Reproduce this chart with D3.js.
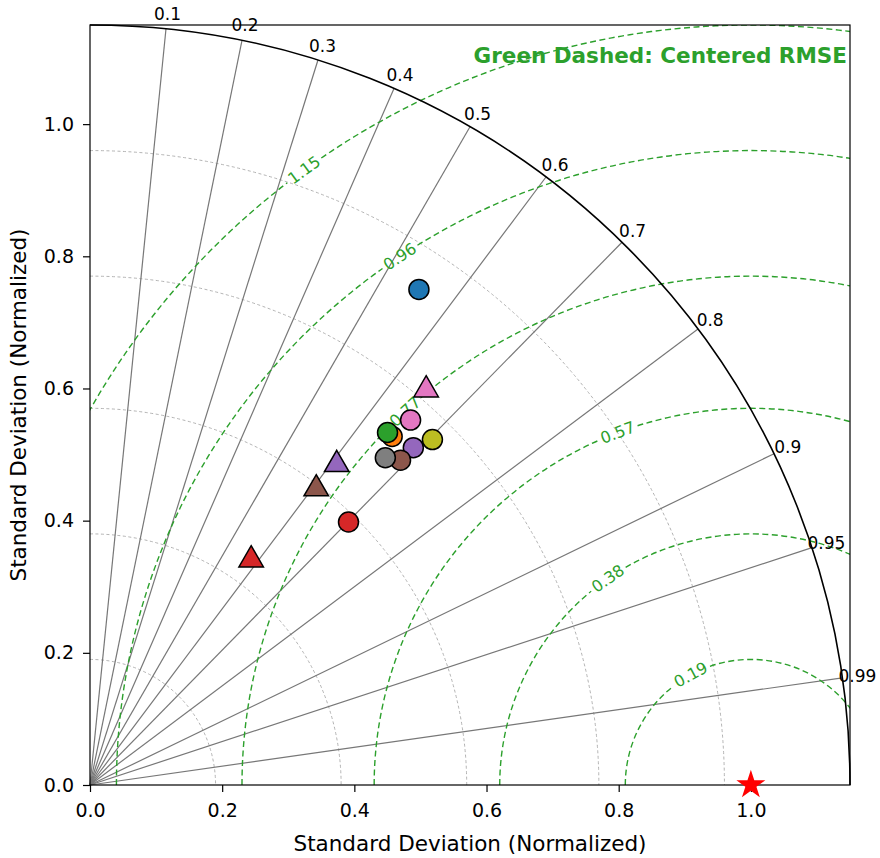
<!DOCTYPE html>
<html>
<head>
<meta charset="utf-8">
<script src="https://cdn.jsdelivr.net/npm/d3@7"></script>
<style>
  body { margin: 0; background: #fff; }
  svg { font-family: "DejaVu Sans", sans-serif; }
</style>
</head>
<body>
<svg width="880" height="858"></svg>
<script>
// normalized std dev + correlation
var circleStd  = [0.900, 0.698, 0.698, 0.558, 0.707, 0.680, 0.735, 0.667, 0.736];
var circleCorr = [0.553, 0.655, 0.645, 0.701, 0.692, 0.691, 0.660, 0.670, 0.704];
var triangleStd  = [0.419, 0.612, 0.564, 0.785];
var triangleCorr = [0.582, 0.610, 0.607, 0.648];
var refStd = 1.0;

var corrTicks = [0.1, 0.2, 0.3, 0.4, 0.5, 0.6, 0.7, 0.8, 0.9, 0.95, 0.99];
var stdLevels = [0.19, 0.38, 0.57, 0.77, 0.96];
var rmseLevels = [0.19, 0.38, 0.57, 0.77, 0.96, 1.15];
var stdTicks = [0, 0.2, 0.4, 0.6, 0.8, 1.0];
var stdMax = 1.15;

// styling
var circleColors = ["#1f77b4", "#ff7f0e", "#2ca02c", "#d62728", "#9467bd", "#8c564b", "#e377c2", "#7f7f7f", "#bcbd22"];
var triangleColors = ["#d62728", "#9467bd", "#8c564b", "#e377c2"];
var rmseLabelAngle = [118.6, 124.7, 110.7, 132.8, 123.6, 126.0]; // degrees around the reference point
var green = "#2ca02c";

var svg = d3.select("svg");
var margin = {top: 25, right: 30, bottom: 73, left: 90};
var width = +svg.attr("width") - margin.left - margin.right;
var height = +svg.attr("height") - margin.top - margin.bottom;
var g = svg.append("g").attr("transform", "translate(" + margin.left + "," + margin.top + ")");

var x = d3.scaleLinear().domain([0, stdMax]).range([0, width]);
var y = d3.scaleLinear().domain([0, stdMax]).range([height, 0]);
var unit = x(1) - x(0);

function polar(r, a) { return [x(r * Math.cos(a)), y(r * Math.sin(a))]; }

g.append("clipPath").attr("id", "plotClip")
  .append("rect").attr("width", width).attr("height", height);

// std dev arcs about the origin
g.selectAll(".stdArc")
  .data(stdLevels)
  .enter().append("path")
    .attr("class", "stdArc")
    .attr("d", function(r) {
      var p = d3.path();
      p.arc(x(0), y(0), r * unit, -Math.PI / 2, 0);
      return p.toString();
    })
    .attr("fill", "none")
    .attr("stroke", "#aaa")
    .attr("stroke-width", 0.9)
    .attr("stroke-dasharray", "3,2.5");

// correlation rays
var line = d3.line();
g.selectAll(".corrLine")
  .data(corrTicks)
  .enter().append("path")
    .attr("class", "corrLine")
    .attr("d", function(c) { return line([polar(0, 0), polar(stdMax, Math.acos(c))]); })
    .attr("stroke", "#777")
    .attr("stroke-width", 1.2);

// centered RMSE circles around the reference, with a gap for the label
var rmse = g.append("g").attr("clip-path", "url(#plotClip)");
rmse.selectAll(".rmseArc")
  .data(rmseLevels)
  .enter().append("path")
    .attr("class", "rmseArc")
    .attr("d", function(r, i) {
      var R = r * unit;
      var phi = rmseLabelAngle[i] * Math.PI / 180;
      var gap = 21 / R;
      var p = d3.path();
      p.arc(x(refStd), y(0), R, -Math.PI, -(phi + gap));
      p.moveTo(x(refStd) + R * Math.cos(phi - gap), y(0) - R * Math.sin(phi - gap));
      p.arc(x(refStd), y(0), R, -(phi - gap), 0);
      return p.toString();
    })
    .attr("fill", "none")
    .attr("stroke", green)
    .attr("stroke-width", 1.4)
    .attr("stroke-dasharray", "6,3.5");

g.selectAll(".rmseLabel")
  .data(rmseLevels)
  .enter().append("text")
    .attr("class", "rmseLabel")
    .attr("transform", function(r, i) {
      var phi = rmseLabelAngle[i] * Math.PI / 180;
      var px = x(refStd + r * Math.cos(phi)), py = y(r * Math.sin(phi));
      return "translate(" + px + "," + py + ") rotate(" + (-(rmseLabelAngle[i] - 90)) + ")";
    })
    .attr("text-anchor", "middle")
    .attr("dominant-baseline", "central")
    .attr("fill", green)
    .style("font-size", "16px")
    .text(function(r) { return d3.format(".2f")(r); });

// outer arc
g.append("path")
  .attr("d", function() {
    var p = d3.path();
    p.arc(x(0), y(0), stdMax * unit, -Math.PI / 2, 0);
    return p.toString();
  })
  .attr("fill", "none")
  .attr("stroke", "#000")
  .attr("stroke-width", 1.6);

g.selectAll(".corrLabel")
  .data(corrTicks)
  .enter().append("text")
    .attr("class", "corrLabel")
    .attr("x", function(c) { return polar(stdMax * 1.02, Math.acos(c))[0]; })
    .attr("y", function(c) { return polar(stdMax * 1.02, Math.acos(c))[1]; })
    .attr("text-anchor", "middle")
    .attr("dominant-baseline", "central")
    .style("font-size", "17px")
    .text(function(c) { return c; });

// axes
var xAxis = g.append("g")
  .attr("transform", "translate(0," + height + ")")
  .call(d3.axisBottom(x).tickValues(stdTicks).tickFormat(d3.format(".1f")).tickSize(7).tickPadding(12));
var yAxis = g.append("g")
  .call(d3.axisLeft(y).tickValues(stdTicks).tickFormat(d3.format(".1f")).tickSize(7).tickPadding(9));
[xAxis, yAxis].forEach(function(a) {
  a.select(".domain").remove();
  a.selectAll("text").style("font-size", "19px").attr("fill", "#000").style("font-family", "DejaVu Sans");
  a.selectAll("line").attr("stroke", "#000").attr("stroke-width", 1.2);
});

g.append("rect")
  .attr("width", width).attr("height", height)
  .attr("fill", "none").attr("stroke", "#000").attr("stroke-width", 1.2);

// models
g.selectAll(".model")
  .data(circleStd)
  .enter().append("circle")
    .attr("class", "model")
    .attr("cx", function(s, i) { return polar(s, Math.acos(circleCorr[i]))[0]; })
    .attr("cy", function(s, i) { return polar(s, Math.acos(circleCorr[i]))[1]; })
    .attr("r", 10)
    .attr("fill", function(s, i) { return circleColors[i]; })
    .attr("stroke", "#000")
    .attr("stroke-width", 1.5);

g.selectAll(".modelTri")
  .data(triangleStd)
  .enter().append("path")
    .attr("class", "modelTri")
    .attr("d", d3.symbol(d3.symbolTriangle, 260))
    .attr("transform", function(s, i) {
      var p = polar(s, Math.acos(triangleCorr[i]));
      return "translate(" + p[0] + "," + p[1] + ")";
    })
    .attr("fill", function(s, i) { return triangleColors[i]; })
    .attr("stroke", "#000")
    .attr("stroke-width", 1.5);

g.append("path")
  .attr("d", d3.symbol(d3.symbolStar, 260))
  .attr("transform", "translate(" + x(refStd) + "," + y(0) + ")")
  .attr("fill", "red");

// labels
g.append("text")
  .attr("x", width - 3).attr("y", 38)
  .attr("text-anchor", "end")
  .attr("fill", green)
  .style("font-size", "21.5px")
  .style("font-weight", "bold")
  .text("Green Dashed: Centered RMSE");

svg.append("text")
  .attr("x", margin.left + width / 2).attr("y", 851)
  .attr("text-anchor", "middle")
  .style("font-size", "21.5px")
  .text("Standard Deviation (Normalized)");

svg.append("text")
  .attr("transform", "translate(26," + (margin.top + height / 2) + ") rotate(-90)")
  .attr("text-anchor", "middle")
  .style("font-size", "21.5px")
  .text("Standard Deviation (Normalized)");
</script>
</body>
</html>
